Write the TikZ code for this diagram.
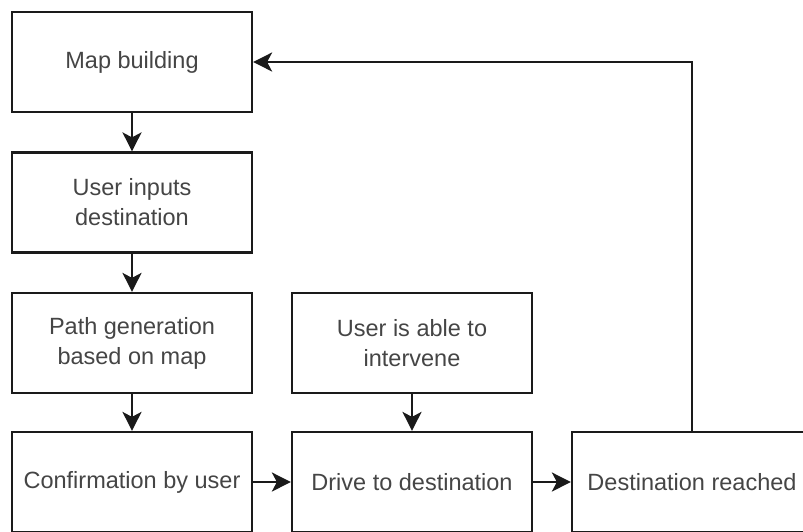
\documentclass[tikz,border=0pt]{standalone}
\usepackage{fontspec}
\setmainfont{Liberation Sans}
\usetikzlibrary{arrows.meta}
\definecolor{txt}{HTML}{454545}
\definecolor{ln}{HTML}{1A1A1A}
\tikzset{
  stepbox/.style={draw=ln, line width=2.2pt, minimum width=240pt, minimum height=100pt,
    inner sep=0pt, align=center, text=txt, font=\fontsize{23.5}{30}\selectfont},
  flow/.style={draw=ln, line width=2.2pt, arrows={-Stealth[length=19pt,width=19pt,inset=5pt]}}
}
\begin{document}
\begin{tikzpicture}[x=1pt,y=-1pt]
\useasboundingbox (0,0) rectangle (803,531);
\clip (0,0) rectangle (803,531);
\fill[white] (0,0) rectangle (803,531);
\node[stepbox] (map) at (132,62) {Map building};
\node[stepbox] (inp) at (132,202.5) {User inputs\\destination};
\node[stepbox] (path) at (132,343) {Path generation\\based on map};
\node[stepbox] (conf) at (132,482) {Confirmation by user};
\node[stepbox] (interv) at (412,343) {User is able to\\intervene};
\node[stepbox] (drive) at (412,482) {Drive to destination};
\node[stepbox] (dest) at (692,482) {Destination reached};
\draw[flow] (map) -- (inp);
\draw[flow] (inp) -- (path);
\draw[flow] (path) -- (conf);
\draw[flow] (interv) -- (drive);
\draw[flow] (conf) -- (drive);
\draw[flow] (drive) -- (dest);
\draw[flow] (dest.north) |- (map.east);
\end{tikzpicture}
\end{document}
